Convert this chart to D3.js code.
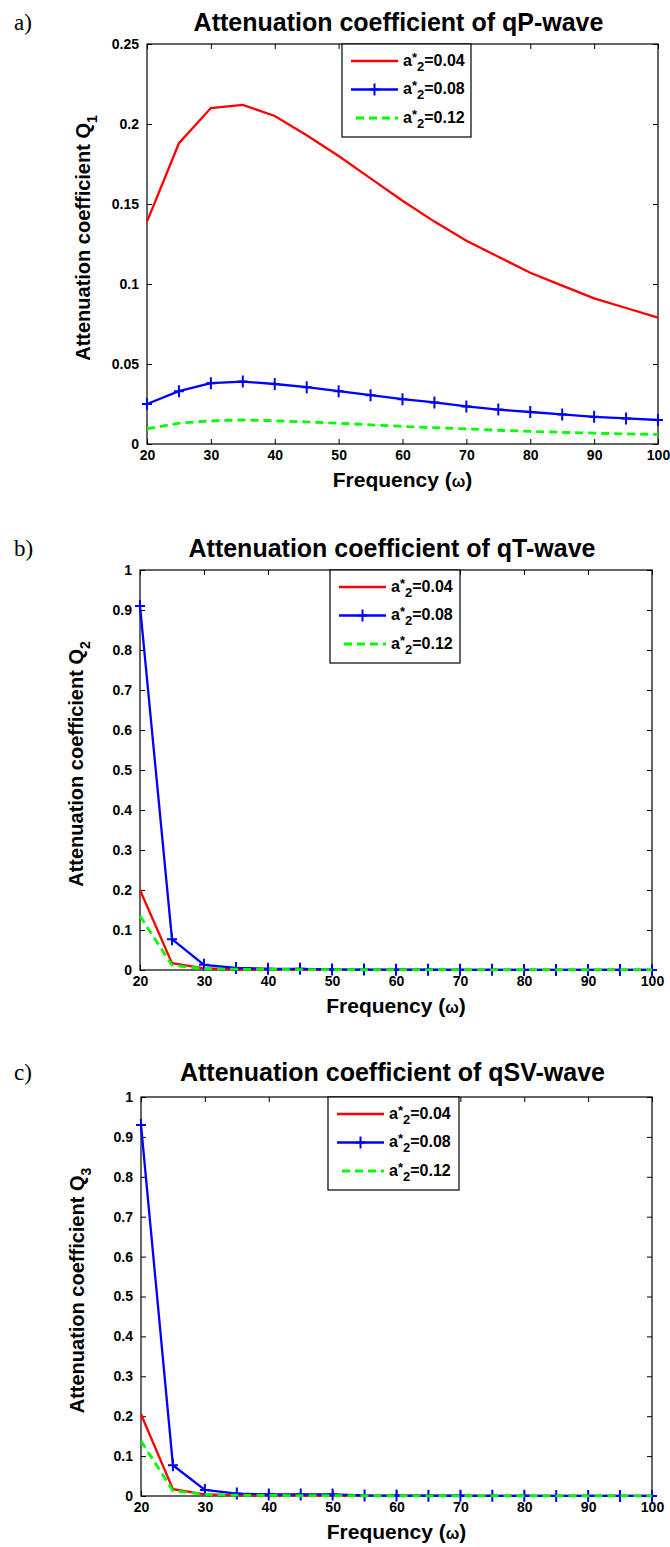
<!DOCTYPE html>
<html><head><meta charset="utf-8">
<script src="https://cdn.jsdelivr.net/npm/d3@7"></script>
<style>body{margin:0;background:#fff}svg{display:block}</style>
</head><body>
<script>
// ---------- data ----------
const freq = [20,25,30,35,40,45,50,55,60,65,70,75,80,85,90,95,100];
const seriesNames = ["0.04","0.08","0.12"];
const panelLetters = ["a)","b)","c)"];
const panelTitles = ["Attenuation coefficient of qP-wave","Attenuation coefficient of qT-wave","Attenuation coefficient of qSV-wave"];
const ySubs = ["1","2","3"];
const xTicks = [20,30,40,50,60,70,80,90,100];
const yTicksA = [0,0.05,0.1,0.15,0.2,0.25];
const yTicksBC = [0,0.1,0.2,0.3,0.4,0.5,0.6,0.7,0.8,0.9,1];

// panel a (qP)
const qP_004 = [0.139,0.188,0.210,0.212,0.205,0.193,0.180,0.166,0.152,0.139,0.127,0.117,0.107,0.099,0.091,0.085,0.079];
const qP_008 = [0.025,0.033,0.038,0.039,0.0375,0.0355,0.033,0.0305,0.028,0.026,0.0235,0.0215,0.020,0.0185,0.017,0.016,0.015];
const qP_012 = [0.0095,0.013,0.0145,0.015,0.0145,0.0138,0.013,0.012,0.011,0.0102,0.0094,0.0086,0.0079,0.0073,0.0068,0.0063,0.006];
// panel b (qT)
const qT_004 = [0.200,0.017,0.004,0.0015,0.001,0.0008,0.0005,0.0004,0.0003,0.0002,0.0002,0.0001,0.0001,0.0001,0.0001,0.0001,0.0001];
const qT_008 = [0.910,0.077,0.013,0.005,0.003,0.003,0.0015,0.001,0.0008,0.0006,0.0005,0.0004,0.0003,0.0003,0.0002,0.0002,0.0002];
const qT_012 = [0.135,0.012,0.003,0.002,0.0015,0.001,0.0008,0.0006,0.0005,0.0004,0.0003,0.0003,0.0002,0.0002,0.0002,0.0001,0.0001];
// panel c (qSV)
const qSV_004 = [0.205,0.017,0.004,0.0015,0.001,0.0008,0.0005,0.0004,0.0003,0.0002,0.0002,0.0001,0.0001,0.0001,0.0001,0.0001,0.0001];
const qSV_008 = [0.930,0.077,0.015,0.006,0.004,0.004,0.004,0.0015,0.001,0.0008,0.0006,0.0005,0.0004,0.0003,0.0003,0.0002,0.0002];
const qSV_012 = [0.138,0.013,0.004,0.002,0.0015,0.001,0.0008,0.0006,0.0005,0.0004,0.0003,0.0003,0.0002,0.0002,0.0002,0.0001,0.0001];

const panelData = [[qP_004,qP_008,qP_012],[qT_004,qT_008,qT_012],[qSV_004,qSV_008,qSV_012]];
const panelYTicks = [yTicksA, yTicksBC, yTicksBC];

// ---------- layout ----------
const W = 670, H = 1547;
const layout = [
  {left:147,right:658,top:44,bottom:444,titleY:22,legX:342,legW:129},
  {left:140,right:652,top:570,bottom:970,titleY:548,legX:330,legW:130},
  {left:141,right:652,top:1097,bottom:1496,titleY:1072,legX:328,legW:131}
];
const colors = ["#ff0000","#0000ff","#00ff00"];
const SANS = "'Liberation Sans', Arial, Helvetica, sans-serif";

const svg = d3.select("body").append("svg").attr("width",W).attr("height",H)
  .style("font-family",SANS);

const fmt = d => String(+d.toFixed(2));

layout.forEach((L,pi) => {
  const g = svg.append("g");
  const yt = panelYTicks[pi];
  const x = d3.scaleLinear().domain([20,100]).range([L.left,L.right]);
  const y = d3.scaleLinear().domain([0,yt[yt.length-1]]).range([L.bottom,L.top]);

  // panel letter
  g.append("text").attr("x",14).attr("y",L.titleY).attr("dy","0.35em")
    .style("font-family","'Liberation Serif', 'Times New Roman', serif").style("font-size","23px")
    .text(panelLetters[pi]);
  // title
  g.append("text").attr("x",(L.left+L.right)/2 - 4).attr("y",L.titleY).attr("dy","0.35em")
    .attr("text-anchor","middle").style("font-size","25px").style("font-weight","bold")
    .text(panelTitles[pi]);

  // axes
  const ax = g.append("g").style("font-weight","bold");
  ax.append("g").attr("transform",`translate(0,${L.bottom})`)
    .call(d3.axisBottom(x).tickValues(xTicks).tickSizeInner(-5).tickSizeOuter(0).tickPadding(6).tickFormat(d3.format("d")));
  ax.append("g").attr("transform",`translate(0,${L.top})`)
    .call(d3.axisTop(x).tickValues(xTicks).tickSizeInner(-5).tickSizeOuter(0).tickFormat(""));
  ax.append("g").attr("transform",`translate(${L.left},0)`)
    .call(d3.axisLeft(y).tickValues(yt).tickSizeInner(-5).tickSizeOuter(0).tickPadding(8).tickFormat(fmt));
  ax.append("g").attr("transform",`translate(${L.right},0)`)
    .call(d3.axisRight(y).tickValues(yt).tickSizeInner(-5).tickSizeOuter(0).tickFormat(""));
  ax.selectAll("text").style("font-family",SANS).style("font-size","14px").style("font-weight","bold").attr("fill","#000");
  ax.selectAll(".domain").remove();
  ax.selectAll(".tick line").attr("stroke","#000");

  // frame
  g.append("rect").attr("x",L.left).attr("y",L.top).attr("width",L.right-L.left).attr("height",L.bottom-L.top)
    .attr("fill","none").attr("stroke","#000").attr("stroke-width",1.2);

  // x label
  const xl = g.append("text").attr("x",(L.left+L.right)/2).attr("y",L.bottom+36).attr("dy","0.35em")
    .attr("text-anchor","middle").style("font-size","21px").style("font-weight","bold");
  xl.append("tspan").text("Frequency (");
  xl.append("tspan").style("font-size","16px").text("ω");
  xl.append("tspan").text(")");

  // y label
  const ylx = L.left - 64, yly = (L.top+L.bottom)/2 - 6;
  const yl = g.append("text").attr("transform",`translate(${ylx},${yly}) rotate(-90)`)
    .attr("text-anchor","middle").attr("dy","0.35em").style("font-size","20px").style("font-weight","bold");
  yl.append("tspan").text("Attenuation coefficient Q");
  yl.append("tspan").attr("dy","7").style("font-size","14px").text(ySubs[pi]);

  // lines
  const clip = "clip"+pi;
  g.append("clipPath").attr("id",clip).append("rect").attr("x",L.left-6).attr("y",L.top).attr("width",L.right-L.left+12).attr("height",L.bottom-L.top+6);
  const line = d3.line().x((d,i)=>x(freq[i])).y(d=>y(d));
  const plot = g.append("g").attr("clip-path",`url(#${clip})`);
  const data = panelData[pi];
  plot.append("path").datum(data[0]).attr("d",line).attr("fill","none").attr("stroke",colors[0]).attr("stroke-width",2.3);
  plot.append("path").datum(data[1]).attr("d",line).attr("fill","none").attr("stroke",colors[1]).attr("stroke-width",2.3);
  plot.selectAll(".mk").data(data[1]).enter().append("path")
    .attr("d",(d,i)=>{const cx=x(freq[i]), cy=y(d); return `M${cx-5},${cy}H${cx+5}M${cx},${cy-6}V${cy+6}`;})
    .attr("stroke",colors[1]).attr("stroke-width",2).attr("fill","none");
  plot.append("path").datum(data[2]).attr("d",line).attr("fill","none").attr("stroke",colors[2]).attr("stroke-width",2.8)
    .attr("stroke-dasharray","8,5");

  // legend
  const lg = g.append("g").attr("transform",`translate(${L.legX},${L.top})`);
  lg.append("rect").attr("x",0).attr("y",0).attr("width",L.legW).attr("height",93)
    .attr("fill","#fff").attr("stroke","#000").attr("stroke-width",1.2);
  seriesNames.forEach((s,si) => {
    const ly = 17 + si*28.5;
    const ln = lg.append("line").attr("x1",9).attr("x2",56).attr("y1",ly).attr("y2",ly)
      .attr("stroke",colors[si]).attr("stroke-width",si===2?2.8:2.3);
    if (si===2) ln.attr("stroke-dasharray","8,5").attr("x1",14);
    if (si===1) lg.append("path").attr("d",`M${32.5-5},${ly}H${32.5+5}M32.5,${ly-6}V${ly+6}`).attr("stroke",colors[1]).attr("stroke-width",2);
    const t = lg.append("text").attr("x",61).attr("y",ly).attr("dy","0.3em")
      .style("font-size","16px").style("font-weight","bold");
    t.append("tspan").text("a");
    t.append("tspan").attr("dy","-4").style("font-size","13px").text("*");
    t.append("tspan").attr("dy","9").style("font-size","13px").text("2");
    t.append("tspan").attr("dy","-5").text("="+s);
  });
});
</script>
</body></html>
